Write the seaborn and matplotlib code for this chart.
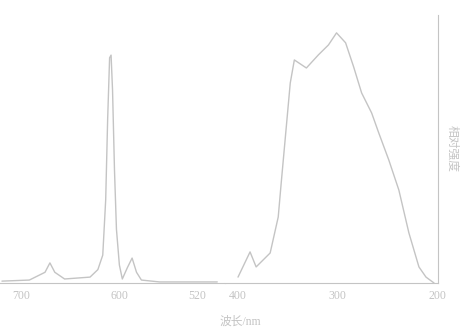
import pandas as pd
import matplotlib
matplotlib.use("Agg")
import matplotlib.pyplot as plt
import seaborn as sns

# emission spectrum (left panel, axis runs from long to short wavelength)
em_wl = [720, 692, 676, 671, 666, 656, 630, 622, 617, 614, 612, 610, 608.5, 607,
         605, 603, 600, 597, 592, 587, 582.5, 577.5, 559, 500]
em_int = [0.007, 0.011, 0.04, 0.075, 0.04, 0.015, 0.022, 0.05, 0.104, 0.31, 0.61,
          0.84, 0.85, 0.72, 0.42, 0.2, 0.067, 0.015, 0.056, 0.093, 0.04, 0.011,
          0.004, 0.004]

# excitation spectrum (right panel)
ex_wl = [400, 387.9, 381.8, 367.7, 359.6, 356.6, 351.5, 347.5, 343.4, 331.3, 319.2,
         309.1, 301.0, 291.9, 283.8, 275.8, 265.7, 258.6, 248.5, 238.4, 228.3,
         218.2, 211.1, 203.0]
ex_int = [0.022, 0.116, 0.06, 0.112, 0.246, 0.373, 0.582, 0.746, 0.832, 0.802, 0.851,
          0.888, 0.933, 0.896, 0.806, 0.709, 0.634, 0.560, 0.459, 0.347, 0.187,
          0.06, 0.022, 0.0]

em_ticks = [700, 600, 520]
ex_ticks = [400, 300, 200]

em = pd.DataFrame({"wl": em_wl, "I": em_int})
ex = pd.DataFrame({"wl": ex_wl, "I": ex_int})

sns.set_style("white")
plt.rcParams['font.family'] = ['Liberation Serif', 'Noto Sans CJK SC']

ink = "#c4c4c4"
fig = plt.figure(figsize=(4.66, 3.31), dpi=100)
ax1 = fig.add_axes([0.0, 0.145, 0.483, 0.81])
ax2 = fig.add_axes([0.483, 0.145, 0.457, 0.81])

sns.lineplot(data=em, x="wl", y="I", ax=ax1, color=ink, linewidth=1.0)
sns.lineplot(data=ex, x="wl", y="I", ax=ax2, color=ink, linewidth=1.0)

ax1.set_xlim(722, 492)
ax2.set_xlim(413, 199)
for ax in (ax1, ax2):
    ax.set_ylim(0, 1.0)
    ax.set_yticks([])
    ax.set_xlabel("")
    ax.set_ylabel("")
    for s in ax.spines.values():
        s.set_visible(False)
    ax.spines["bottom"].set_visible(True)
    ax.spines["bottom"].set_color(ink)
    ax.tick_params(axis="x", colors=ink, labelsize=8.5, length=0, pad=5)
ax1.set_xticks(em_ticks)
ax2.set_xticks(ex_ticks)
ax2.spines["right"].set_visible(True)
ax2.spines["right"].set_color(ink)
ax2.yaxis.set_label_position("right")
ax2.set_ylabel("相对强度", color=ink, fontsize=8.5, rotation=270, labelpad=14)

fig.text(240 / 466, 1 - 322 / 331, "波长/nm", color=ink, fontsize=8.5,
         ha="center", va="center")

plt.savefig("out.png", dpi=100, facecolor="white")
